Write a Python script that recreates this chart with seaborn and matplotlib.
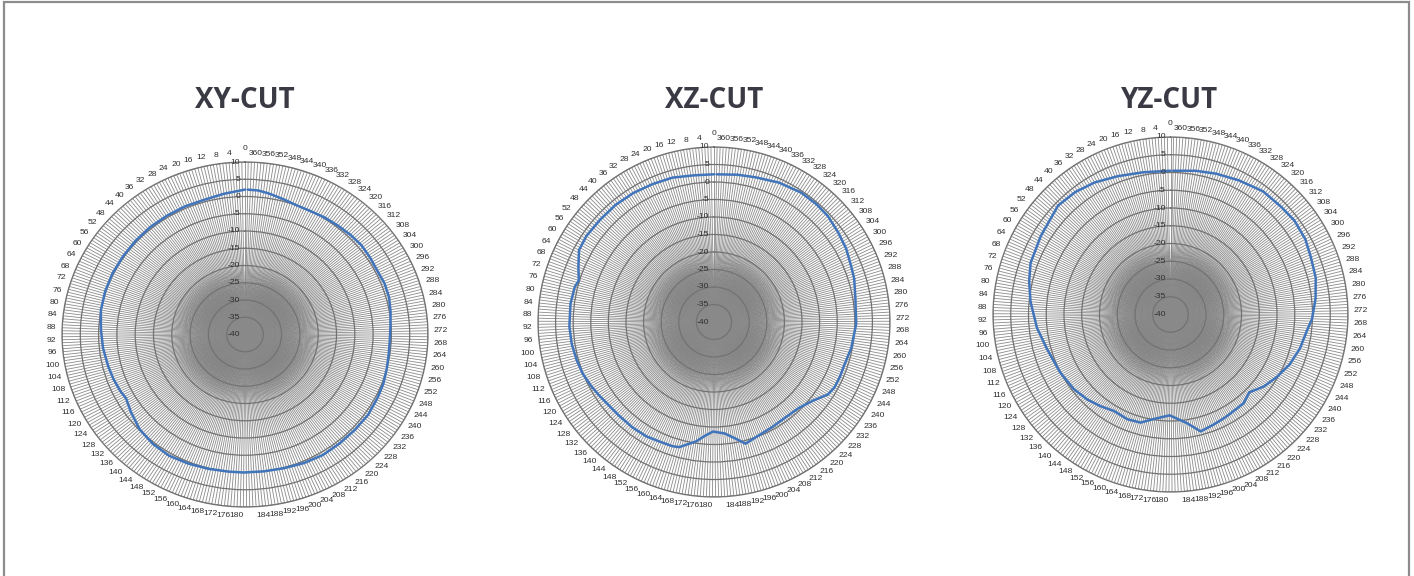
import numpy as np
import matplotlib
matplotlib.use("Agg")
import matplotlib.pyplot as plt
import seaborn as sns
from matplotlib.patches import Rectangle
from matplotlib.transforms import offset_copy
from matplotlib.colors import LinearSegmentedColormap
from matplotlib import font_manager

# ---------------- data ----------------
titles = ["XY-CUT", "XZ-CUT", "YZ-CUT"]

xy_angles = [0, 8, 16, 24, 32, 40, 48, 56, 64, 72, 80, 88, 96, 104, 110, 116, 120, 126,
             134, 142, 150, 158, 166, 174, 180, 188, 196, 204, 212, 220, 228, 236, 244,
             250, 256, 262, 268, 274, 280, 286, 292, 298, 304, 310, 316, 322, 328, 334,
             340, 346, 352, 356, 360]
xy_gain = [2.0, 1.2, 0.6, 0.6, 0.5, 0.5, 0.4, 0.3, 0.3, 0.2, 0.0, -0.6, -1.0, -1.5, -1.8,
           -2.2, -2.6, -1.6, -0.2, 0.5, 0.8, 0.5, 0.2, 0.0, 0.0, 0.0, 0.2, 0.6, 0.9, 0.8,
           0.8, 0.9, 0.6, 0.4, 0.0, -0.3, -0.4, -0.2, 0.3, 0.8, 0.9, 0.6, 0.8, 1.0, 0.8,
           0.5, 0.3, 0.0, 0.0, 0.6, 1.4, 1.9, 2.0]

xz_angles = [0, 8, 16, 24, 32, 40, 48, 56, 62, 68, 73, 76, 83, 92, 99, 106, 112, 118, 123,
             129, 135, 143, 150, 156, 162, 165, 172, 176, 180, 186, 191, 195, 202, 209, 217,
             225, 232, 238, 242, 247, 252, 260, 270, 280, 288, 293, 300, 307, 314, 320, 327,
             336, 345, 352, 360]
xz_gain = [2.2, 2.3, 2.9, 3.1, 3.4, 3.6, 3.6, 3.8, 3.5, 1.6, 0.2, 0.8, 1.1, 1.1, 0.9, 0.5,
           0.1, -0.6, -1.2, -1.8, -2.0, -2.0, -2.1, -2.5, -2.6, -2.9, -5.5, -7.4, -8.7, -8.0,
           -6.1, -4.1, -5.2, -5.7, -6.0, -5.6, -4.0, -1.6, -1.0, -0.95, -1.0, -0.3, 0.4, 0.7,
           1.7, 2.1, 3.0, 3.6, 4.3, 4.5, 4.5, 3.9, 3.0, 2.6, 2.2]

yz_angles = [0, 11, 21, 30, 38, 46, 59, 70, 77, 85, 96, 106, 118, 128, 136, 143, 150, 158,
             165, 171, 180, 189, 195, 202, 209, 220, 226, 233, 240, 248, 256, 264, 269, 277,
             285, 293, 300, 308, 315, 324, 334, 343, 351, 360]
yz_gain = [0.5, 0.8, 1.7, 2.9, 3.7, 4.1, 2.7, 2.0, 0.9, -0.4, -2.2, -3.9, -4.9, -5.6, -6.5,
           -7.5, -8.5, -8.1, -8.4, -10.1, -11.6, -9.1, -6.0, -6.7, -7.2, -7.6, -8.8, -6.8,
           -5.3, -3.6, -2.3, -1.3, -0.1, 1.1, 2.2, 2.7, 3.5, 3.8, 3.5, 3.4, 2.4, 1.7, 1.1, 0.5]

categories = list(range(0, 361))            # one spoke per category (degree)
theta_labels = [str(a) for a in range(0, 361, 4)]
r_ticks = list(range(-40, 11, 5))
r_min, r_max = -40, 10

series = [(xy_angles, xy_gain), (xz_angles, xz_gain), (yz_angles, yz_gain)]

# ---------------- style ----------------
sns.set_theme(style="white")
_names = {f.name for f in font_manager.fontManager.ttflist}
if 'Liberation Sans Narrow' in _names:
    LABEL_FAMILY, FS = ['Liberation Sans Narrow', 'DejaVu Sans'], 6.8
else:
    LABEL_FAMILY, FS = ['Liberation Sans', 'DejaVu Sans'], 6.1
plt.rcParams['font.family'] = LABEL_FAMILY

LINE_BLUE = "#4074bb"
SPOKE = "#8a8a8a"
RING = "#727272"
TXT = "#2e2e2e"

fig = plt.figure(figsize=(14.14, 5.76), dpi=100)
W, H = 1414.0, 576.0
# axes boxes in pixels: (left, top, right, bottom)
boxes = [(62, 162, 428, 507), (538, 147, 890, 497), (993, 137, 1348, 492)]
title_x = [245, 714, 1170]

n_cat = len(categories)  # 361 categories around the circle
def cat_to_rad(c):
    return np.deg2rad(np.asarray(c, dtype=float) * 360.0 / n_cat)

blob_cmap = LinearSegmentedColormap.from_list(
    'blob', [(0.36, 0.36, 0.36, 0.0), (0.36, 0.36, 0.36, 0.78)])

for i, (ang, gain) in enumerate(series):
    l, t, r, b = boxes[i]
    ax = fig.add_axes([l / W, 1 - b / H, (r - l) / W, (b - t) / H], projection='polar')
    ax.set_aspect('auto')
    ax.set_theta_zero_location('N')
    ax.set_theta_direction(1)
    ax.set_facecolor('white')

    # dense-spoke convergence shading around the centre
    th_g = np.linspace(0, 2 * np.pi, 181)
    r_g = np.linspace(r_min, r_min + 21, 43)
    TH, RR = np.meshgrid(th_g, r_g)
    rc = 0.5 * (r_g[:-1] + r_g[1:]) - r_min
    dark = np.clip(1 - (rc / 20.0) ** 2.5, 0, 1)
    C = np.repeat(dark[:, None], len(th_g) - 1, axis=1)
    ax.pcolormesh(TH, RR, C, cmap=blob_cmap, vmin=0, vmax=1, shading='flat',
                  edgecolors='none', linewidth=0, antialiased=False, zorder=0.5)

    ax.set_ylim(r_min, r_max)
    ax.set_xticks(cat_to_rad(categories))
    ax.set_xticklabels([])
    ax.set_yticks(r_ticks)
    ax.set_yticklabels([])
    ax.tick_params(axis='both', length=0, pad=0)
    ax.grid(True)
    ax.xaxis.grid(True, color=SPOKE, linewidth=0.6)
    ax.yaxis.grid(True, color=RING, linewidth=0.9)
    ax.spines['polar'].set_color(RING)
    ax.spines['polar'].set_linewidth(0.9)

    sns.lineplot(x=cat_to_rad(ang), y=np.asarray(gain), ax=ax, sort=False,
                 estimator=None, color=LINE_BLUE, linewidth=1.8, zorder=5)
    ax.set_xlabel("")
    ax.set_ylabel("")
    ax.set_ylim(r_min, r_max)

    # angle category labels around the circle (left side right-aligned, right side left-aligned)
    h = FS * 0.72
    pad = 4.0
    for lab in theta_labels:
        th = float(cat_to_rad(int(lab)))
        dx, dy = -np.sin(th), np.cos(th)
        if int(lab) == 0:
            ha = 'center'
            ox, oy = 0.0, pad + 0.5 * h + 3.5
        else:
            ha = 'left' if dx > 0 else 'right'
            ox, oy = dx * pad, dy * (pad + 0.5 * h)
        tr = offset_copy(ax.transData, fig=fig, x=ox, y=oy, units='points')
        ax.text(th, r_max, lab, transform=tr, ha=ha, va='center',
                fontsize=FS, color=TXT, clip_on=False)

    # radial value labels along the 0 spoke
    for rv in r_ticks:
        tr = offset_copy(ax.transData, fig=fig, x=-3.5, y=0, units='points')
        ax.text(0, rv, str(rv), transform=tr, ha='right', va='center',
                fontsize=FS, color=TXT, clip_on=False, zorder=6)

    fig.text(title_x[i] / W, 1 - 101 / H, titles[i], ha='center', va='center',
             fontsize=20, fontweight='bold', family=['Open Sans', 'DejaVu Sans'],
             color='#3a3a44')

# outer frame (left, top, right edges visible)
fig.add_artist(Rectangle((3.5 / W, -0.05), (1409 - 3.5) / W, 1.05 - 2.5 / H,
                         transform=fig.transFigure, fill=False,
                         edgecolor='#8c8c8c', linewidth=1.6))

fig.savefig("out.png", dpi=100, facecolor='white')
